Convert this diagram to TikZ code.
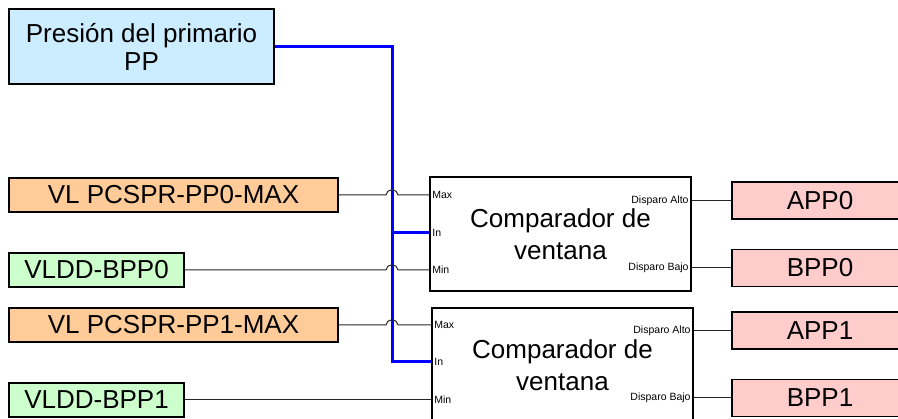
\documentclass[tikz,border=0pt]{standalone}
\usepackage{fontspec}
\setmainfont{Liberation Sans}
\usepackage{tikz}
\tikzset{x=1pt,y=1pt}
\usetikzlibrary{calc}
\definecolor{ppblue}{HTML}{CCECFF}
\definecolor{vlorange}{HTML}{FFCC99}
\definecolor{vlgreen}{HTML}{CCFFCC}
\definecolor{outpink}{HTML}{FFCCCC}
% signal that hops over the bus
\newcommand{\hopline}[2]{%
  \draw[sig] (#1.east) -- ($(bus |- #1)-(6,0)$)
    arc[start angle=180, end angle=0, x radius=6, y radius=5] -- (#1 -| #2.west);}

\begin{document}
\begin{tikzpicture}[
    box/.style={draw, line width=1.6pt, inner sep=0pt, minimum height=34,
      font=\fontsize{26}{28}\selectfont},
    cmp/.style={draw, line width=1.6pt, minimum width=261, minimum height=114,
      align=center, font=\fontsize{26}{32}\selectfont},
    port/.style={inner sep=3pt, font=\fontsize{10.5}{12}\selectfont},
    sig/.style={draw=black!85, line width=1pt},
    pbus/.style={draw=blue, line width=3pt}]
  \useasboundingbox (0,0) rectangle (898,419);
  \clip (0,0) rectangle (898,419);
  % sources
  \node[box, fill=ppblue, minimum width=265, minimum height=75, align=center,
    font=\fontsize{26}{28}\selectfont] (pp) at (141.5,372.5) {Presión del primario\\PP};
  \node[box, fill=vlorange, minimum width=329] (vlmax0) at (173.5,224) {VL PCSPR-PP0-MAX};
  \node[box, fill=vlgreen, minimum width=175] (vldd0) at (96.5,149) {VLDD-BPP0};
  \node[box, fill=vlorange, minimum width=329] (vlmax1) at (173.5,94) {VL PCSPR-PP1-MAX};
  \node[box, fill=vlgreen, minimum width=175] (vldd1) at (96.5,19) {VLDD-BPP1};
  % comparators
  \node[cmp] (cmp0) at (560.5,185) {Comparador de\\ventana};
  \node[cmp] (cmp1) at (562.5,54) {Comparador de\\ventana};
  % outputs
  \node[box, fill=outpink, minimum width=176, minimum height=37] (app0) at (820,218.5) {APP0};
  \node[box, fill=outpink, minimum width=176, minimum height=37] (bpp0) at (820,151) {BPP0};
  \node[box, fill=outpink, minimum width=176, minimum height=37] (app1) at (820,88.5) {APP1};
  \node[box, fill=outpink, minimum width=176, minimum height=37] (bpp1) at (820,21) {BPP1};

  % bus
  \coordinate (bus) at (392,0);
  \coordinate (in0) at (392,186);
  \coordinate (in1) at (392,57);
  \draw[pbus] (pp.east) -| (in1) -- (in1 -| cmp1.west);
  \draw[pbus] (in0) -- (in0 -| cmp0.west);

  % limits
  \hopline{vlmax0}{cmp0}
  \hopline{vldd0}{cmp0}
  \hopline{vlmax1}{cmp1}
  \draw[sig] (vldd1.east) -- (vldd1 -| cmp1.west);

  % trips
  \draw[sig] (cmp0.east |- app0) -- (app0.west);
  \draw[sig] (cmp0.east |- bpp0) -- (bpp0.west);
  \draw[sig] (cmp1.east |- app1) -- (app1.west);
  \draw[sig] (cmp1.east |- bpp1) -- (bpp1.west);

  % port labels
  \node[port, anchor=west] (max0) at (cmp0.west |- vlmax0) {Max};
  \node[port, anchor=west] (inl0) at (cmp0.west |- in0) {In};
  \node[port, anchor=west] (min0) at (cmp0.west |- vldd0) {Min};
  \node[port, anchor=east] (alto0) at (cmp0.east |- app0) {Disparo Alto};
  \node[port, anchor=east] (bajo0) at (cmp0.east |- bpp0) {Disparo Bajo};
  \node[port, anchor=west] (max1) at (cmp1.west |- vlmax1) {Max};
  \node[port, anchor=west] (inl1) at (cmp1.west |- in1) {In};
  \node[port, anchor=west] (min1) at (cmp1.west |- vldd1) {Min};
  \node[port, anchor=east] (alto1) at (cmp1.east |- app1) {Disparo Alto};
  \node[port, anchor=east] (bajo1) at (cmp1.east |- bpp1) {Disparo Bajo};
\end{tikzpicture}
\end{document}
